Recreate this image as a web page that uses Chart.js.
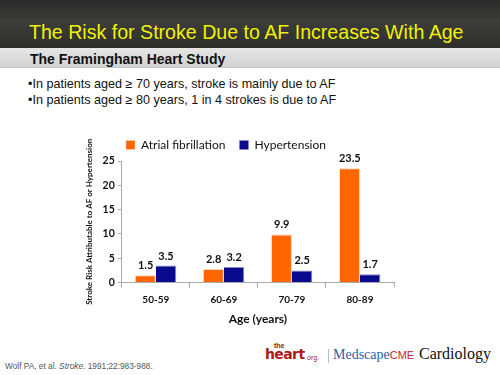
<!DOCTYPE html>
<html>
<head>
<meta charset="utf-8">
<script src="https://cdn.jsdelivr.net/npm/chart.js@4"></script>
<style>
  body { margin: 0; width: 500px; height: 375px; background: #fff; position: relative; overflow: hidden; font-family: "Liberation Sans", Arial, sans-serif; }
  #head { position: absolute; left: 0; top: 0; width: 500px; height: 48px; background: linear-gradient(180deg, #2a2a2a 0%, #3c3c3a 45%, #2e2e2c 100%); }
  #head h1 { position: absolute; left: 29px; top: 21px; margin: 0; font-size: 19.6px; font-weight: normal; color: #f2f200; white-space: nowrap; }
  #band { position: absolute; left: 0; top: 48px; width: 500px; height: 19px; background: linear-gradient(180deg, #e6e6e6, #d2d2d2); border-bottom: 1px solid #c8c8c8; }
  #band h2 { position: absolute; left: 30px; top: 3px; margin: 0; font-size: 14px; font-weight: bold; color: #111; white-space: nowrap; }
  #bullets { position: absolute; left: 28px; top: 76px; font-size: 12.6px; color: #111; line-height: 16px; white-space: nowrap; }
  #chart-box { position: absolute; left: 80px; top: 125px; width: 340px; height: 205px; }
  #cite { position: absolute; left: 5px; top: 361px; font-size: 8.3px; color: #555; white-space: nowrap; }
  #logo { position: absolute; left: 265px; top: 342px; white-space: nowrap; }
  .the { position: absolute; left: 9px; top: 0; font-size: 7px; font-weight: bold; color: #a01010; }
  .heart { position: absolute; left: 0; top: 4px; font-family: "DejaVu Sans", sans-serif; font-size: 14px; font-weight: bold; color: #b01818; letter-spacing: -0.6px; }
  .org { position: absolute; left: 42px; top: 12px; font-size: 7px; color: #b01818; }
  .sep { position: absolute; left: 63px; top: 7px; width: 1px; height: 14px; background: #bbb; }
  .med { position: absolute; left: 68px; top: 5px; font-family: "Liberation Serif", "DejaVu Serif", serif; font-size: 14px; color: #2c5fa8; }
  .med b { font-family: "Liberation Sans", Arial, sans-serif; color: #d0202a; font-weight: normal; font-size: 11px; }
  .card { position: absolute; left: 154px; top: 3px; font-family: "Liberation Serif", "DejaVu Serif", serif; font-size: 16px; color: #111; }
</style>
</head>
<body>
<div id="head"><h1>The Risk for Stroke Due to AF Increases With Age</h1></div>
<div id="band"><h2>The Framingham Heart Study</h2></div>
<div id="bullets">
  •In patients aged ≥ 70 years, stroke is mainly due to AF<br>
  •In patients aged ≥ 80 years, 1 in 4 strokes is due to AF
</div>
<div id="chart-box"><canvas id="chart"></canvas></div>
<div id="cite">Wolf PA, et al. <i>Stroke</i>. 1991;22:983-988.</div>
<div id="logo">
  <span class="the">the</span><span class="heart">heart</span><span class="org">org.</span>
  <span class="sep"></span>
  <span class="med">Medscape<b>CME</b></span>
  <span class="card">Cardiology</span>
</div>
<script>
// Age groups and stroke risk attributable (%)
const ageGroups = ["50-59", "60-69", "70-79", "80-89"];
const atrialFib = [1.5, 2.8, 9.9, 23.5];
const hypertension = [3.5, 3.2, 2.5, 1.7];
const yTicks = [0, 5, 10, 15, 20, 25];

const labelFont = "Lato, 'Open Sans', sans-serif";

// values printed above each bar
const barValues = {
  id: "barValues",
  afterDatasetsDraw(chart) {
    const ctx = chart.ctx;
    ctx.save();
    ctx.font = "bold 11px " + labelFont;
    ctx.fillStyle = "#111";
    ctx.textAlign = "center";
    ctx.textBaseline = "bottom";
    chart.data.datasets.forEach((ds, i) => {
      chart.getDatasetMeta(i).data.forEach((bar, j) => {
        ctx.fillText(ds.data[j].toFixed(1), bar.x, bar.y - 4);
      });
    });
    ctx.restore();
  }
};

// legend in the slide sits a bit right of the canvas edge
const legendShift = {
  id: "legendShift",
  afterLayout(chart) { chart.legend.left += 32; }
};

new Chart(document.getElementById("chart"), {
  type: "bar",
  data: {
    labels: ageGroups,
    datasets: [
      { label: "Atrial fibrillation", data: atrialFib, backgroundColor: "#ff6600", borderColor: "#ffd0b0", borderWidth: { top: 1, right: 1 } },
      { label: "Hypertension", data: hypertension, backgroundColor: "#0a0a8c", borderColor: "#8888cc", borderWidth: { top: 1, right: 1 } }
    ]
  },
  options: {
    responsive: true,
    maintainAspectRatio: false,
    animation: false,
    layout: { padding: { left: 0, right: 26, top: 0, bottom: 0 } },
    plugins: {
      legend: {
        position: "top",
        align: "start",
        labels: {
          boxWidth: 9, boxHeight: 9, padding: 14,
          color: "#111",
          font: { family: labelFont, size: 12 }
        }
      },
      tooltip: { enabled: false }
    },
    datasets: { bar: { categoryPercentage: 0.6, barPercentage: 1.0 } },
    scales: {
      x: {
        grid: { drawOnChartArea: false, color: "#aaa", tickLength: 5 },
        border: { color: "#aaa" },
        ticks: { color: "#111", font: { family: labelFont, size: 10, weight: "bold" }, padding: 6 },
        title: { display: true, text: "Age (years)", color: "#111", font: { family: labelFont, size: 12, weight: "bold" }, padding: { top: 0 } }
      },
      y: {
        min: 0, max: 25,
        afterBuildTicks(axis) { axis.ticks = yTicks.map(v => ({ value: v })); },
        grid: { drawOnChartArea: false, color: "#aaa", tickLength: 4 },
        border: { color: "#aaa" },
        ticks: { color: "#111", font: { family: labelFont, size: 10.5, weight: "bold" }, padding: 3 },
        title: { display: true, text: "Stroke Risk Attributable to AF or Hypertension", color: "#111", font: { family: labelFont, size: 8, weight: "bold" }, padding: 5 }
      }
    }
  },
  plugins: [barValues, legendShift]
});
</script>
</body>
</html>
